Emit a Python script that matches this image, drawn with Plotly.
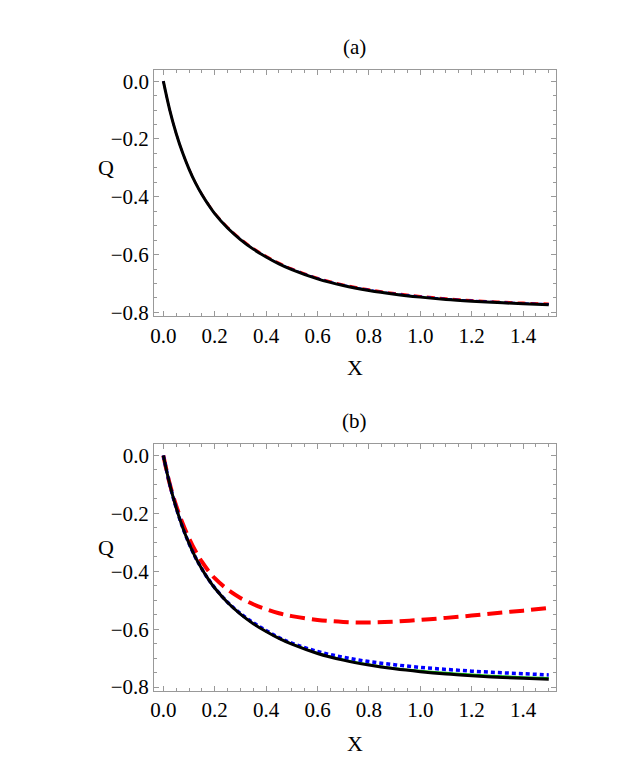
import plotly.graph_objects as go

# =============================================================================
# data
# =============================================================================
x_vals = [0, 0.025, 0.05, 0.075, 0.1, 0.125, 0.15, 0.175, 0.2, 0.25, 0.3, 0.35, 0.4, 0.45,
          0.5, 0.6, 0.7, 0.8, 0.9, 1.0, 1.1, 1.2, 1.3, 1.4, 1.5]

# panel (a)
a_black = [0, -0.100, -0.181, -0.248, -0.304, -0.352, -0.392, -0.427, -0.458, -0.508, -0.548, -0.581, -0.608, -0.632,
           -0.652, -0.684, -0.707, -0.724, -0.737, -0.747, -0.755, -0.761, -0.766, -0.770, -0.773]
a_green = [0, -0.100, -0.181, -0.248, -0.304, -0.352, -0.392, -0.427, -0.458, -0.508, -0.548, -0.581, -0.608, -0.632,
           -0.651, -0.683, -0.706, -0.723, -0.736, -0.746, -0.754, -0.760, -0.765, -0.769, -0.772]
a_blue = [0, -0.100, -0.181, -0.248, -0.304, -0.352, -0.392, -0.427, -0.458, -0.507, -0.547, -0.580, -0.607, -0.631,
          -0.650, -0.682, -0.705, -0.722, -0.735, -0.745, -0.753, -0.759, -0.764, -0.768, -0.771]
a_red = [0, -0.100, -0.181, -0.247, -0.303, -0.350, -0.390, -0.424, -0.455, -0.504, -0.544, -0.577, -0.604, -0.628,
         -0.648, -0.680, -0.703, -0.720, -0.733, -0.743, -0.751, -0.757, -0.762, -0.766, -0.769]

# panel (b)
b_black = a_black
b_green = [0, -0.100, -0.181, -0.248, -0.304, -0.352, -0.392, -0.427, -0.458, -0.508, -0.548, -0.581, -0.608, -0.631,
           -0.650, -0.681, -0.704, -0.721, -0.734, -0.743, -0.750, -0.756, -0.761, -0.765, -0.768]
b_blue = [0, -0.100, -0.181, -0.248, -0.304, -0.352, -0.392, -0.427, -0.457, -0.507, -0.546, -0.578, -0.605, -0.629,
          -0.648, -0.677, -0.697, -0.712, -0.723, -0.732, -0.739, -0.745, -0.750, -0.754, -0.758]
b_red = [0, -0.098, -0.173, -0.234, -0.286, -0.330, -0.367, -0.398, -0.424, -0.463, -0.492, -0.514, -0.531, -0.545,
         -0.555, -0.568, -0.575, -0.577, -0.574, -0.568, -0.561, -0.553, -0.544, -0.536, -0.527]

x_ticks = [0.0, 0.2, 0.4, 0.6, 0.8, 1.0, 1.2, 1.4]
y_ticks = [0.0, -0.2, -0.4, -0.6, -0.8]

FONT = "Liberation Serif"
W, H = 623, 778

fig = go.Figure()


def add_panel(xa, ya, black, green, blue, red, thick):
    fig.add_trace(go.Scatter(x=x_vals, y=green, mode="lines", line=dict(color="#00b000", width=1.5, shape="spline"),
                             xaxis=xa, yaxis=ya, showlegend=False))
    fig.add_trace(go.Scatter(x=x_vals, y=red, mode="lines",
                             line=dict(color="#ff0000", width=4 if thick else 2, shape="spline",
                                       dash="15px,7px" if thick else "8px,5px"),
                             xaxis=xa, yaxis=ya, showlegend=False))
    fig.add_trace(go.Scatter(x=x_vals, y=blue, mode="lines",
                             line=dict(color="#0000ff", width=3.5 if thick else 2, shape="spline", dash="4px,3px"),
                             xaxis=xa, yaxis=ya, showlegend=False))
    fig.add_trace(go.Scatter(x=x_vals, y=black, mode="lines", line=dict(color="black", width=3, shape="spline"),
                             xaxis=xa, yaxis=ya, showlegend=False))


add_panel("x", "y", a_black, a_green, a_blue, a_red, False)
add_panel("x2", "y2", b_black, b_green, b_blue, b_red, True)

axis_common = dict(
    showgrid=False, zeroline=False, showline=True, linecolor="#999999", linewidth=1,
    mirror="allticks", ticks="inside", ticklen=5, tickcolor="#999999", tickwidth=1,
    tickfont=dict(family=FONT, size=21, color="black"),
    minor=dict(ticks="inside", ticklen=3, tickcolor="#999999", dtick=0.05, showgrid=False),
)

xdom = [143 / W, 548 / W]
y_text = ["0.0" if v == 0 else "\u2212%.1f" % abs(v) for v in y_ticks]
x_text = ["%.1f" % v for v in x_ticks]
fig.update_layout(
    width=W, height=H,
    margin=dict(l=0, r=0, t=0, b=0),
    paper_bgcolor="white", plot_bgcolor="white",
    font=dict(family=FONT, color="black"),
    xaxis=dict(domain=xdom, range=[-0.036, 1.53], tickvals=x_ticks, ticktext=x_text, anchor="y", **axis_common),
    yaxis=dict(domain=[1 - 311 / H, 1 - 62 / H], range=[-0.8137, 0.0376], tickvals=y_ticks,
               ticktext=y_text, anchor="x", **axis_common),
    xaxis2=dict(domain=xdom, range=[-0.036, 1.53], tickvals=x_ticks, ticktext=x_text, anchor="y2", **axis_common),
    yaxis2=dict(domain=[1 - 690 / H, 1 - 440 / H], range=[-0.8137, 0.040], tickvals=y_ticks,
                ticktext=y_text, anchor="x2", **axis_common),
)

# titles and axis labels
labels = [
    ("(a)", 345, 38), ("(b)", 345, 417),
    ("X", 345, 363), ("X", 345, 743),
    ("Q", 95, 160), ("Q", 95, 545),
]
for txt, px, py in labels:
    fig.add_annotation(text=txt, x=px / W, y=1 - py / H, xref="paper", yref="paper",
                       showarrow=False, xanchor="center", yanchor="middle",
                       font=dict(family=FONT, size=21 if txt.startswith("(") else 22, color="black"))

fig.write_html("out.html")
